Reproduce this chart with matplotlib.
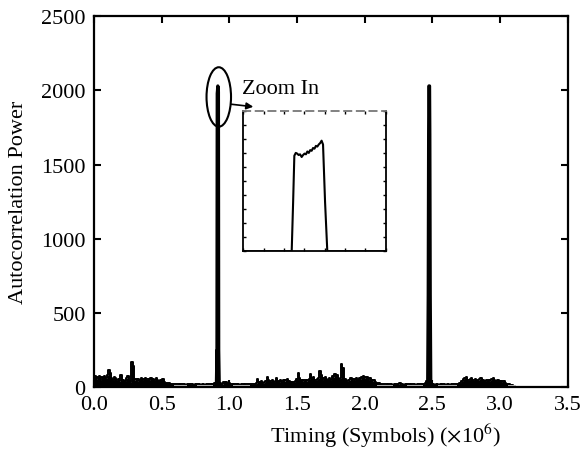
import numpy as np
import matplotlib
matplotlib.use("Agg")
import matplotlib.pyplot as plt
from matplotlib.patches import Ellipse

plt.rcParams['font.family'] = ['Liberation Serif', 'DejaVu Serif']
plt.rcParams['mathtext.fontset'] = 'stix'

# ---- data ----
# background autocorrelation envelope, sampled every 0.01 (x1e6 symbols) from 0.00 to 3.10
noise_vals = [
    60, 72, 55, 68, 76, 50, 70, 62, 72, 58,
    80, 117, 95, 60, 48, 66, 58, 45, 52, 40,
    81, 45, 50, 42, 58, 76, 40, 35, 166, 140,
    45, 55, 40, 52, 48, 58, 50, 55, 60, 52,
    56, 48, 60, 50, 54, 45, 58, 50, 42, 48,
    40, 52, 35, 30, 28, 25, 27, 22, 20, 18,
    17, 18, 20, 16, 18, 19, 17, 18, 16, 18,
    22, 19, 18, 20, 16, 18, 19, 17, 18, 16,
    18, 19, 16, 18, 20, 17, 18, 16, 22, 25,
    30, 250, 130, 30, 22, 18, 36, 30, 34, 22,
    25, 18, 17, 16, 18, 17, 16, 18, 16, 17,
    18, 16, 17, 19, 18, 20, 22, 18, 22, 20,
    25, 54, 36, 30, 38, 25, 35, 40, 67, 45,
    43, 38, 45, 35, 40, 60, 42, 35, 48, 40,
    50, 38, 45, 54, 40, 36, 30, 36, 35, 40,
    55, 92, 60, 45, 40, 45, 50, 38, 45, 55,
    88, 60, 67, 50, 45, 55, 60, 108, 80, 50,
    60, 67, 55, 50, 60, 45, 74, 65, 88, 70,
    80, 55, 60, 155, 130, 50, 54, 40, 50, 45,
    60, 50, 55, 45, 58, 50, 60, 54, 65, 74,
    60, 70, 65, 50, 60, 45, 40, 45, 35, 30,
    27, 25, 22, 20, 19, 17, 18, 16, 18, 17,
    18, 16, 20, 18, 22, 19, 27, 18, 17, 16,
    18, 16, 17, 18, 16, 19, 18, 17, 16, 18,
    19, 18, 20, 22, 22, 30, 40, 50, 40, 22,
    19, 18, 16, 18, 17, 16, 18, 16, 17, 18,
    16, 18, 17, 16, 18, 19, 18, 20, 22, 22,
    25, 30, 40, 55, 60, 67, 50, 45, 55, 60,
    48, 45, 52, 50, 45, 55, 60, 50, 45, 42,
    50, 45, 40, 48, 55, 60, 50, 42, 45, 48,
    40, 35, 38, 42, 30, 22, 18, 17, 16, 15,
    0,
]
noise_x = np.round(np.arange(len(noise_vals)) * 0.01, 2)

# correlation peaks
peak1_x = [0.905, 0.909, 0.911, 0.913, 0.915, 0.917, 0.919, 0.921, 0.925]
peak1_y = [25, 250, 1980, 2000, 2030, 2010, 1990, 250, 25]
peak2_x = [2.466, 2.470, 2.473, 2.475, 2.479, 2.481, 2.484, 2.488]
peak2_y = [30, 620, 1700, 2030, 2030, 1700, 620, 30]

# low-level (grey) trace segments
grey_starts = [0.59, 0.76, 1.03, 2.09, 2.31, 2.54, 3.06]
grey_ends = [0.69, 0.88, 1.15, 2.21, 2.43, 2.68, 3.12]
grey_level = 9

# zoomed-in pulse (inset, arbitrary units)
inset_x = [0.0, 2.38, 2.45, 2.51, 2.58, 2.65, 2.72, 2.79, 2.87, 2.94, 3.01, 3.08,
           3.15, 3.22, 3.29, 3.36, 3.43, 3.50, 3.57, 3.64, 3.71, 3.78, 3.85,
           3.92, 4.02, 4.13, 7.0]
inset_y = [0.0, 0.0, 3.5, 6.8, 7.0, 6.95, 6.85, 6.9, 6.71, 6.85, 6.95, 6.9,
           7.1, 7.0, 7.2, 7.15, 7.35, 7.3, 7.5, 7.45, 7.6, 7.7, 7.87,
           7.6, 3.5, 0.0, 0.0]

x_ticks = [0.0, 0.5, 1.0, 1.5, 2.0, 2.5, 3.0, 3.5]
x_ticklabels = ['0.0', '0.5', '1.0', '1.5', '2.0', '2.5', '3.0', '3.5']
y_ticks = [0, 500, 1000, 1500, 2000, 2500]

# ---- figure ----
fig = plt.figure(figsize=(5.82, 4.52), dpi=100)
ax = fig.add_axes([0.1615, 0.1416, 0.8139, 0.8201])

ax.fill_between(noise_x, 0, noise_vals, step='mid', color='black', lw=0)
ax.step(noise_x, noise_vals, where='mid', color='black', lw=1.4)
for s, e in zip(grey_starts, grey_ends):
    ax.plot([s, e], [grey_level, grey_level], color='#c4c4c4', lw=1.4,
            solid_capstyle='butt')
ax.plot(peak1_x, peak1_y, color='black', lw=2.4)
ax.plot(peak2_x, peak2_y, color='black', lw=2.4)

ax.set_xlim(0, 3.5)
ax.set_ylim(0, 2500)
ax.set_xticks(x_ticks)
ax.set_xticklabels(x_ticklabels)
ax.set_yticks(y_ticks)
ax.tick_params(direction='in', length=5, width=1.5, top=True, right=True,
               labelsize=16, pad=6)
for sp in ax.spines.values():
    sp.set_linewidth(1.6)

ax.set_xlabel(r'Timing (Symbols) ($\times$10$^{6}$)', fontsize=16)
ax.set_ylabel('Autocorrelation Power', fontsize=16)
ax.xaxis.set_label_coords((385 - 94) / 473.7, -0.09)
ax.yaxis.set_label_coords(-0.14, 0.5)

# ellipse around peak and annotation
ax.add_patch(Ellipse((0.922, 1956), 0.181, 401, fill=False, ec='black', lw=1.5))
ax.text(1.095, 2015, 'Zoom In', fontsize=16, ha='left', va='center')
ax.annotate('', xy=(1.177, 1890), xytext=(1.014, 1907),
            arrowprops=dict(arrowstyle='-|>', color='black', lw=1.2,
                            mutation_scale=10, shrinkA=0, shrinkB=0))

# inset
ins = fig.add_axes([0.418, 0.4418, 0.2447, 0.311])
ins.plot(inset_x, inset_y, color='black', lw=1.5)
ins.set_xlim(0, 7)
ins.set_ylim(0, 10)
ins.set_xticks(np.arange(0, 8))
ins.set_yticks(np.arange(0, 11))
ins.set_xticklabels([])
ins.set_yticklabels([])
ins.tick_params(direction='in', length=2.5, width=1.0, top=True, right=True)
for sp in ins.spines.values():
    sp.set_linewidth(1.3)
ins.spines['top'].set_linestyle((0, (4, 3)))
ins.spines['top'].set_color('#777777')

fig.savefig('out.png', dpi=100)
